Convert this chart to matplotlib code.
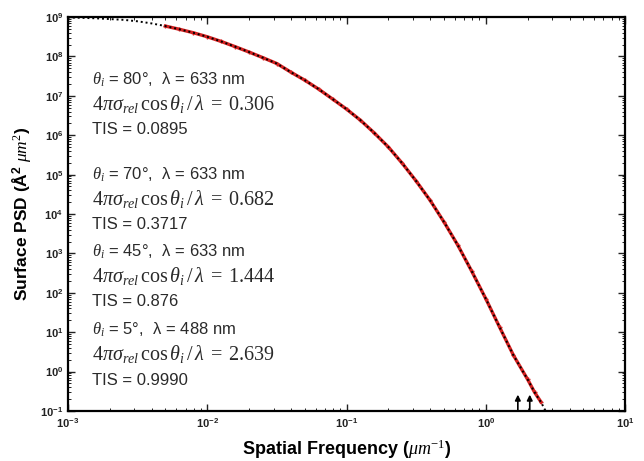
import numpy as np
import matplotlib
matplotlib.use('Agg')
import matplotlib.pyplot as plt
from matplotlib.ticker import LogLocator, FixedLocator, FuncFormatter, NullFormatter

plt.rcParams['font.family'] = ['Liberation Sans', 'DejaVu Sans']
plt.rcParams['mathtext.fontset'] = 'custom'
plt.rcParams['mathtext.rm'] = 'Liberation Serif'
plt.rcParams['mathtext.it'] = 'Liberation Serif:italic'
plt.rcParams['mathtext.bf'] = 'Liberation Sans:bold'
plt.rcParams['mathtext.sf'] = 'Liberation Sans'

# model curve (black dotted)
f_model = [0.001, 0.00158, 0.00251, 0.00316, 0.00398, 0.00501, 0.00631, 0.00794, 0.01,
           0.0126, 0.0158, 0.02, 0.0251, 0.0316, 0.0398, 0.0501, 0.0631, 0.0794, 0.1,
           0.126, 0.158, 0.2, 0.251, 0.316, 0.398, 0.501, 0.631, 0.794, 1.0,
           1.26, 1.58, 2.0, 2.24, 2.51, 2.69]
psd_model = [9.8e8, 9.3e8, 8.5e8, 7.8e8, 6.9e8, 5.9e8, 4.9e8, 4.0e8, 3.16e8,
             2.4e8, 1.78e8, 1.29e8, 9.3e7, 6.6e7, 4.0e7, 2.5e7, 1.48e7, 8.3e6, 4.6e6,
             2.4e6, 1.15e6, 5.0e5, 1.95e5, 6.9e4, 2.24e4, 6.3e3, 1.6e3, 3.5e2, 71,
             13.2, 2.6, 0.63, 0.30, 0.16, 0.1]

# measured PSD (red)
f_meas = [0.00501, 0.00631, 0.00794, 0.01, 0.0126, 0.0158, 0.02, 0.0251, 0.0316,
          0.0398, 0.0501, 0.0631, 0.0794, 0.1, 0.126, 0.158, 0.2, 0.251, 0.316,
          0.398, 0.501, 0.631, 0.794, 1.0, 1.26, 1.58, 2.0, 2.24, 2.49]
psd_meas = [5.9e8, 4.9e8, 4.0e8, 3.16e8, 2.4e8, 1.78e8, 1.29e8, 9.3e7, 6.6e7,
            4.0e7, 2.5e7, 1.48e7, 8.3e6, 4.6e6, 2.4e6, 1.15e6, 5.0e5, 1.95e5, 6.9e4,
            2.24e4, 6.3e3, 1.6e3, 3.5e2, 71, 13.2, 2.6, 0.63, 0.30, 0.17]

arrow_f = [1.70, 2.07]

angles = ['80°', '70°', '45°', '5°']
wavelengths = ['633', '633', '633', '488']
factors = ['0.306', '0.682', '1.444', '2.639']
tis = ['0.0895', '0.3717', '0.876', '0.9990']
text_y = [80, 175, 252, 330]  # pixel rows of the first line of each block

fig = plt.figure(figsize=(6.44, 4.61), dpi=100)
ax = fig.add_axes([0.1056, 0.1085, 0.8649, 0.8545])

ax.plot(f_meas, psd_meas, color='#d42020', lw=2.4, marker='+', ms=3, mew=1, zorder=2)
ax.plot(f_model, psd_model, color='black', lw=1.4, ls=(0, (1, 1.5)), zorder=3)

for f in arrow_f:
    ax.annotate('', xy=(f, 0.26), xytext=(f, 0.1),
                arrowprops=dict(arrowstyle='-|>', color='black', lw=1.2,
                                mutation_scale=8, shrinkA=0, shrinkB=0))

ax.set_xscale('log')
ax.set_yscale('log')
ax.set_xlim(1e-3, 1e1)
ax.set_ylim(1e-1, 1e9)

def sci(v, pos):
    e = int(round(np.log10(v)))
    return r'$\mathbf{10^{%d}}$' % e

ax.xaxis.set_major_locator(FixedLocator([1e-3, 1e-2, 1e-1, 1e0, 1e1]))
ax.yaxis.set_major_locator(FixedLocator([10.0 ** k for k in range(-1, 10)]))
ax.xaxis.set_minor_locator(LogLocator(base=10, subs=np.arange(2, 10), numticks=20))
ax.yaxis.set_minor_locator(LogLocator(base=10, subs=np.arange(2, 10), numticks=20))
ax.xaxis.set_major_formatter(FuncFormatter(sci))
ax.yaxis.set_major_formatter(FuncFormatter(sci))
ax.xaxis.set_minor_formatter(NullFormatter())
ax.yaxis.set_minor_formatter(NullFormatter())
ax.tick_params(which='both', direction='in', top=True, right=True, labelsize=8, colors='#222222')
ax.tick_params(which='major', length=5, width=1)
ax.tick_params(which='minor', length=2.5, width=0.7)
for s in ax.spines.values():
    s.set_linewidth(1.6)

ax.set_xlabel(r'Spatial Frequency ($\mathit{\mu m}^{-1}$)', fontsize=13, fontweight='bold', labelpad=6)
ax.set_ylabel(r'Surface PSD ($\mathbf{\AA^2}\ \mathit{\mu m^2}$)', fontsize=12.5, fontweight='bold', labelpad=4)

H = 461.0
for i in range(4):
    y0 = 1 - text_y[i] / H
    fig.text(92 / 644, y0, r'$\theta_i$' + ' = ' + angles[i] + ',  λ = ' + wavelengths[i] + ' nm',
             fontsize=12, color='#2a2a2a', va='center')
    fig.text(92 / 644, y0 - 24 / H,
             r'$4\pi\sigma_{rel}\,\cos\theta_i\,/\,\lambda\;=\;\mathrm{' + factors[i] + '}$',
             fontsize=14.5, color='#2a2a2a', va='center')
    fig.text(92 / 644, y0 - 50 / H, 'TIS = ' + tis[i], fontsize=12, color='#2a2a2a', va='center')

fig.savefig('out.png', dpi=100)
